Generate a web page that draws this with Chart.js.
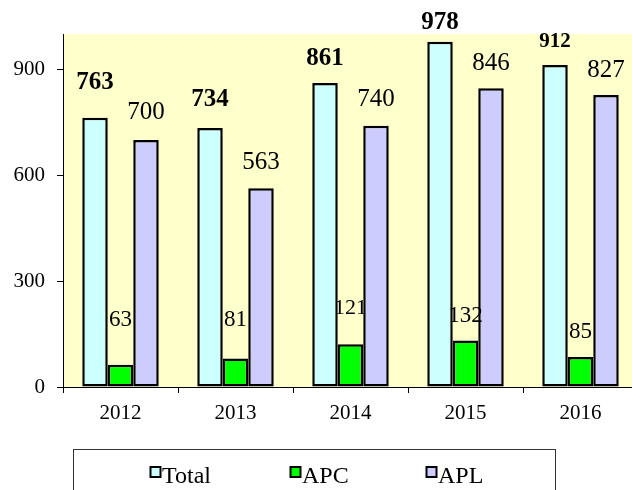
<!DOCTYPE html>
<html>
<head>
<meta charset="utf-8">
<script src="https://cdn.jsdelivr.net/npm/chart.js@4/dist/chart.umd.min.js"></script>
<style>
  html, body { margin: 0; padding: 0; background: #fff; overflow: hidden; }
  canvas { display: block; }
</style>
</head>
<body>
<canvas id="chart" width="645" height="490"></canvas>
<script>
// Years on the category axis
const categories = ['2012', '2013', '2014', '2015', '2016'];

// Series values
const seriesNames = ['Total', 'APC', 'APL'];
const totalValues = [763, 734, 861, 978, 912];
const apcValues = [63, 81, 121, 132, 85];
const aplValues = [700, 563, 740, 846, 827];

// Value-axis tick labels
const yTickValues = [0, 300, 600, 900];

// How far (px) each value label sits above the top of its bar
const totalLabelLift = [35, 28, 25, 19, 23];
const apcLabelLift = [45, 38, 36, 24, 25];
const aplLabelLift = [27, 26, 26, 25, 25];

const SERIF = '"Liberation Serif", "Times New Roman", serif';
const fillColors = ['#CCFFFF', '#00FF00', '#CCCCFF'];

// Pale yellow plot area
const plotBackground = {
  id: 'plotBackground',
  beforeDraw(chart) {
    const { ctx, chartArea: a } = chart;
    ctx.save();
    ctx.fillStyle = '#fff';
    ctx.fillRect(0, 0, chart.width, chart.height);
    ctx.fillStyle = '#FFFFCC';
    ctx.fillRect(a.left, a.top, a.right - a.left, a.bottom - a.top);
    ctx.restore();
  }
};

// Value labels above the bars
const valueLabels = {
  id: 'valueLabels',
  afterDatasetsDraw(chart) {
    const { ctx } = chart;
    const lifts = [totalLabelLift, apcLabelLift, aplLabelLift];
    ctx.save();
    ctx.fillStyle = '#000';
    ctx.textAlign = 'center';
    ctx.textBaseline = 'middle';
    chart.data.datasets.forEach((ds, di) => {
      const meta = chart.getDatasetMeta(di);
      meta.data.forEach((bar, i) => {
        let font;
        if (di === 0) {
          font = (i === 4 ? 'bold 21px ' : 'bold 25px ') + SERIF;
        } else if (di === 1) {
          font = (i === 2 ? '22px ' : '23px ') + SERIF;
        } else {
          font = '25px ' + SERIF;
        }
        ctx.font = font;
        ctx.fillText(String(ds.data[i]), bar.x, bar.y - lifts[di][i]);
      });
    });
    ctx.restore();
  }
};

// Boxed legend below the axis
const boxedLegend = {
  id: 'boxedLegend',
  afterDraw(chart) {
    const { ctx } = chart;
    ctx.save();
    ctx.strokeStyle = '#333';
    ctx.lineWidth = 1;
    ctx.strokeRect(73.5, 449.5, 482, 60);
    const itemX = [150.5, 290.5, 426.5];
    ctx.font = '24px ' + SERIF;
    ctx.textBaseline = 'alphabetic';
    ctx.textAlign = 'left';
    chart.data.datasets.forEach((ds, i) => {
      const x = itemX[i];
      ctx.fillStyle = ds.backgroundColor;
      ctx.fillRect(x, 467, 10, 10);
      ctx.strokeStyle = '#000';
      ctx.lineWidth = 2;
      ctx.strokeRect(x, 467, 10, 10);
      ctx.fillStyle = '#000';
      ctx.fillText(ds.label, x + 11.5, 483);
    });
    ctx.restore();
  }
};

const makeSet = (i, values) => ({
  label: seriesNames[i],
  data: values,
  backgroundColor: fillColors[i],
  borderColor: '#000',
  borderWidth: 2.5,
  borderSkipped: false,
  categoryPercentage: 0.665,
  barPercentage: 1.0
});

new Chart(document.getElementById('chart'), {
  type: 'bar',
  data: {
    labels: categories,
    datasets: [
      makeSet(0, totalValues),
      makeSet(1, apcValues),
      makeSet(2, aplValues)
    ]
  },
  options: {
    responsive: false,
    animation: false,
    devicePixelRatio: 1,
    layout: { padding: { top: 34, left: 0, right: 7, bottom: 63 } },
    plugins: {
      legend: { display: false },
      tooltip: { enabled: false },
      title: { display: false }
    },
    scales: {
      x: {
        grid: {
          offset: true,
          drawOnChartArea: false,
          drawTicks: true,
          tickLength: 6,
          color: '#000',
          lineWidth: 1
        },
        border: { display: true, color: '#000', width: 1 },
        ticks: { font: { family: SERIF, size: 21 }, color: '#000', padding: 8 },
        afterFit(scale) { scale.height = 40; }
      },
      y: {
        min: 0,
        max: 1000,
        afterBuildTicks(scale) {
          scale.ticks = yTickValues.map(v => ({ value: v }));
        },
        grid: {
          drawOnChartArea: false,
          drawTicks: true,
          tickLength: 6,
          color: '#000',
          lineWidth: 1
        },
        border: { display: true, color: '#000', width: 1 },
        ticks: { font: { family: SERIF, size: 21 }, color: '#000', padding: 12 },
        afterFit(scale) { scale.width = 63; }
      }
    }
  },
  plugins: [plotBackground, valueLabels, boxedLegend]
});
</script>
</body>
</html>
